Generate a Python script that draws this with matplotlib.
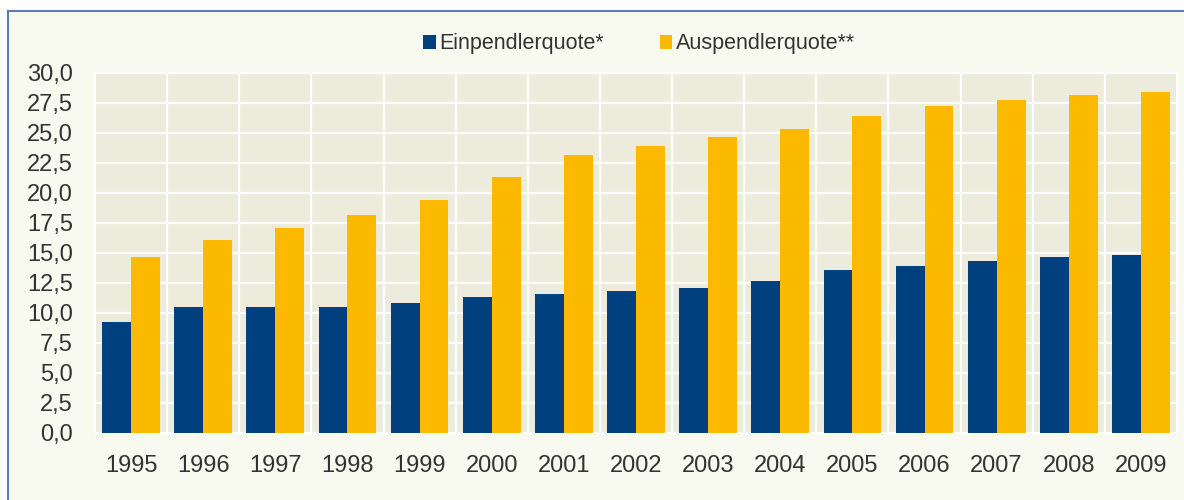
import matplotlib
matplotlib.use("Agg")
import matplotlib.pyplot as plt
import numpy as np
from matplotlib.patches import Rectangle, Patch

years = ["1995", "1996", "1997", "1998", "1999", "2000", "2001", "2002",
         "2003", "2004", "2005", "2006", "2007", "2008", "2009"]
einpendler = [9.25, 10.5, 10.5, 10.5, 10.8, 11.3, 11.6, 11.8,
              12.1, 12.7, 13.55, 13.9, 14.3, 14.65, 14.8]
auspendler = [14.65, 16.1, 17.05, 18.15, 19.45, 21.35, 23.2, 23.9,
              24.7, 25.3, 26.45, 27.25, 27.75, 28.2, 28.4]
yticks = [0, 2.5, 5, 7.5, 10, 12.5, 15, 17.5, 20, 22.5, 25, 27.5, 30]

BLUE = "#00407E"
YELLOW = "#FBBA00"
TEXT = "#333333"

plt.rcParams["font.family"] = ["Liberation Sans", "DejaVu Sans"]

fig = plt.figure(figsize=(11.84, 5.0), dpi=100)
fig.patch.set_facecolor("white")

# framed panel background, behind the axes
fig.patches.append(Rectangle((7.5 / 1184, -0.05), 1.1, 1 - 11 / 500 + 0.05,
                             transform=fig.transFigure, facecolor="#F8F9EF",
                             edgecolor="#5B7DB5", linewidth=1.5, zorder=-10))

ax = fig.add_axes([95 / 1184, 67 / 500, 1082 / 1184, 360 / 500])
ax.set_zorder(1)
ax.set_facecolor("#EDEBDC")

x = np.arange(len(years))
w = 0.4
ax.bar(x - w / 2, einpendler, w, color=BLUE, zorder=3)
ax.bar(x + w / 2, auspendler, w, color=YELLOW, zorder=3)

ax.set_xlim(-0.5, len(years) - 0.5)
ax.set_ylim(0, 30)
ax.set_yticks(yticks)
ax.set_yticklabels([f"{v:.1f}".replace(".", ",") for v in yticks])
ax.set_xticks(x)
ax.set_xticklabels(years)
ax.set_xticks(x[:-1] + 0.5, minor=True)

ax.grid(axis="y", which="major", color="white", linewidth=1.6, zorder=1)
ax.grid(axis="x", which="minor", color="white", linewidth=1.6, zorder=1)
ax.set_axisbelow(True)

ax.tick_params(axis="both", which="both", length=0, labelsize=17, colors=TEXT)
ax.tick_params(axis="y", pad=16)
ax.tick_params(axis="x", pad=16)
for s in ax.spines.values():
    s.set_color("white")
    s.set_linewidth(1.5)

handles = [Patch(facecolor=BLUE), Patch(facecolor=YELLOW)]
leg = fig.legend(handles, ["Einpendlerquote*", "Auspendlerquote**"],
                 loc="center", bbox_to_anchor=(0.5395, 0.912), ncol=2,
                 frameon=False, fontsize=15.5, handlelength=0.6,
                 handleheight=0.6, handletextpad=0.15, columnspacing=2.6)
for t in leg.get_texts():
    t.set_color(TEXT)

fig.savefig("out.png", dpi=100)
